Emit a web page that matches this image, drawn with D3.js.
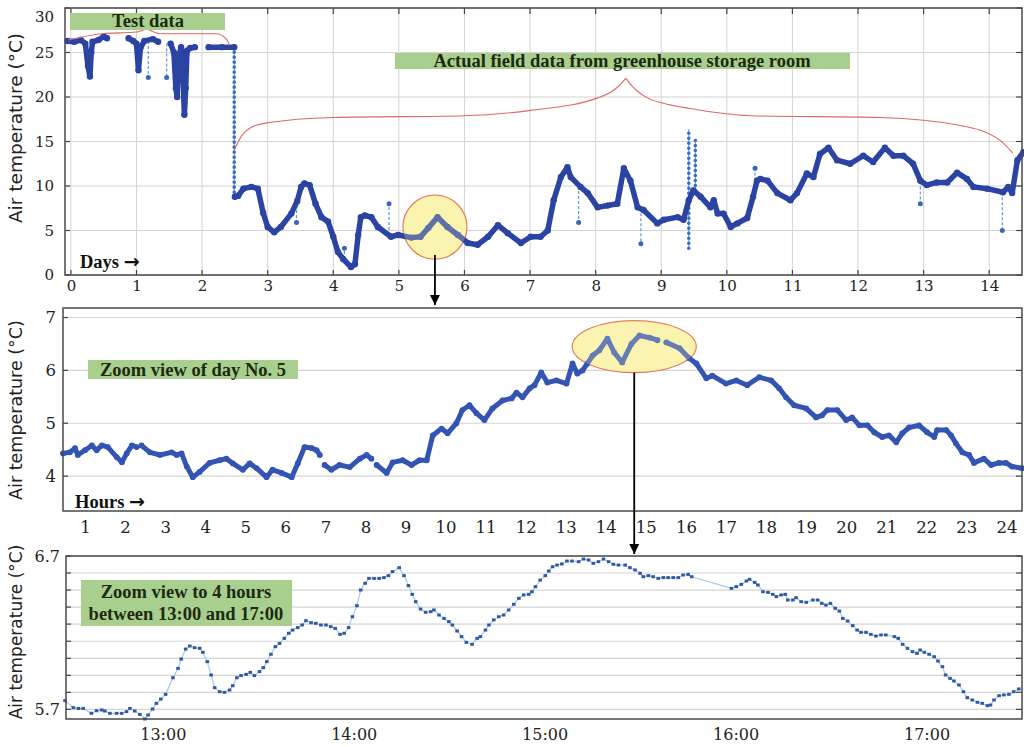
<!DOCTYPE html>
<html>
<head>
<meta charset="utf-8">
<script src="https://cdn.jsdelivr.net/npm/d3@7"></script>
<style>
  body { margin: 0; background: #fff; }
  .tick text { font-family: "DejaVu Serif", serif; fill: #222; }
</style>
</head>
<body>
<script>
// ----------------------------------------------------------------------------
// Data: top panel, air temperature (°C) against days. null = break in the line
// ----------------------------------------------------------------------------
const testSeries = [
  [-0.05, 26.3], [0.05, 26.2], [0.15, 26.4], [0.22, 26.0], [0.26, 23.5], [0.29, 22.3],
  [0.31, 25.0], [0.33, 26.2], [0.42, 26.4], [0.5, 26.8], [0.55, 26.6], null,
  [0.88, 26.6], [0.95, 26.3], [1.0, 26.0], [1.03, 23.0], [1.06, 25.5], [1.12, 26.3],
  [1.25, 26.5], [1.33, 26.2], null,
  [1.52, 26.0], [1.57, 25.0], [1.6, 21.0], [1.62, 20.0], [1.64, 24.5], [1.68, 25.6],
  [1.71, 22.0], [1.73, 18.0], [1.75, 21.0], [1.77, 25.2], [1.82, 25.5], [1.89, 25.6], null,
  [2.1, 25.6], [2.3, 25.6], [2.49, 25.6]
];

const fieldSeries = [
  [2.5, 8.8], [2.55, 8.9], [2.63, 9.7], [2.75, 9.9], [2.85, 9.7], [2.93, 7.0], [3.0, 5.4],
  [3.1, 4.8], [3.2, 5.4], [3.36, 6.9], [3.45, 8.3], [3.51, 9.9], [3.56, 10.3], [3.64, 10.1],
  [3.73, 8.0], [3.82, 6.5], [3.92, 6.0], [4.0, 4.3], [4.07, 2.6], [4.15, 1.8], [4.27, 0.9],
  [4.33, 1.2], [4.38, 4.5], [4.42, 6.5], [4.48, 6.7], [4.58, 6.5], [4.68, 5.4], [4.88, 4.3],
  [4.99, 4.5], [5.19, 4.2], [5.33, 4.3], [5.45, 5.3], [5.59, 6.5], [5.74, 5.4], [5.9, 4.5],
  [6.05, 3.6], [6.2, 3.4], [6.36, 4.3], [6.51, 5.6], [6.66, 4.7], [6.86, 3.6], [7.01, 4.3],
  [7.16, 4.3], [7.27, 5.0], [7.36, 8.4], [7.47, 11.0], [7.57, 12.1], [7.62, 11.0], [7.77, 9.9],
  [7.88, 9.2], [8.03, 7.6], [8.18, 7.8], [8.33, 8.0], [8.43, 12.0], [8.53, 10.6], [8.64, 7.6],
  [8.73, 7.3], [8.94, 5.8], [9.04, 6.2], [9.25, 6.5], [9.34, 6.2], [9.42, 8.4], [9.49, 9.5],
  [9.6, 8.8], [9.75, 7.6], [9.8, 8.4], [9.86, 6.9], [9.95, 6.9], [10.06, 5.4], [10.16, 5.8],
  [10.31, 6.4], [10.4, 8.8], [10.46, 10.6], [10.51, 10.8], [10.62, 10.6], [10.77, 9.2],
  [10.97, 8.4], [11.07, 9.2], [11.22, 11.4], [11.32, 11.0], [11.42, 13.6], [11.55, 14.3],
  [11.68, 12.9], [11.88, 12.5], [12.08, 13.4], [12.23, 12.7], [12.41, 14.3], [12.54, 13.4],
  [12.69, 13.4], [12.84, 12.5], [12.95, 10.6], [13.05, 10.1], [13.2, 10.4], [13.36, 10.4],
  [13.51, 11.5], [13.66, 10.8], [13.76, 9.9], [13.97, 9.7], [14.21, 9.3], [14.29, 9.9],
  [14.35, 9.2], [14.43, 12.9], [14.52, 13.8]
];

// single outlier readings: [day, from °C, to °C]
const thinSpikes = [
  [1.18, 26.3, 22.2], [1.46, 26.0, 22.2], [3.44, 9.0, 5.9], [4.17, 1.8, 3.0],
  [4.85, 4.5, 8.0], [7.74, 10.0, 5.9], [8.69, 7.5, 3.5], [10.43, 9.5, 12.0],
  [12.95, 10.5, 8.0], [14.2, 9.3, 5.0]
];
const dottedSpikes = [[2.49, 25.6, 8.8], [9.42, 3.0, 16.4], [9.52, 9.5, 15.2]];

const dayTicks = [0, 1, 2, 3, 4, 5, 6, 7, 8, 9, 10, 11, 12, 13, 14];
const topTempTicks = [0, 5, 10, 15, 20, 25, 30];

// ----------------------------------------------------------------------------
// Data: middle panel, day No. 5 by hour
// ----------------------------------------------------------------------------
const hourSeries = [
  [0.45, 4.43], [0.62, 4.45], [0.75, 4.53], [0.82, 4.40], [1.0, 4.49], [1.17, 4.58],
  [1.29, 4.49], [1.42, 4.58], [1.57, 4.55], [1.79, 4.36], [1.92, 4.26], [2.04, 4.43],
  [2.17, 4.58], [2.29, 4.55], null,
  [2.41, 4.58], [2.62, 4.45], [2.87, 4.40], [3.16, 4.45], [3.29, 4.40], [3.41, 4.43],
  [3.54, 4.18], [3.69, 3.98], [3.86, 4.08], [4.11, 4.25], [4.36, 4.30], [4.53, 4.33],
  [4.69, 4.24], [4.94, 4.12], [5.11, 4.24], [5.28, 4.15], [5.53, 3.98], [5.68, 4.12],
  [5.91, 4.06], [6.16, 3.98], [6.31, 4.24], [6.48, 4.55], [6.66, 4.53], [6.78, 4.49],
  [6.86, 4.40], null,
  [6.98, 4.21], [7.15, 4.12], [7.35, 4.21], [7.61, 4.17], [7.86, 4.33], [8.03, 4.40],
  [8.15, 4.33], null,
  [8.28, 4.21], [8.53, 4.06], [8.68, 4.26], [8.93, 4.30], [9.15, 4.21], [9.35, 4.30],
  [9.53, 4.30], [9.68, 4.77], [9.9, 4.90], [10.05, 4.81], [10.27, 5.0], [10.42, 5.25],
  [10.6, 5.34], [10.77, 5.19], [10.97, 5.06], [11.17, 5.28], [11.42, 5.43], [11.65, 5.47],
  [11.77, 5.58], [11.92, 5.49], [12.1, 5.66], [12.22, 5.72], [12.39, 5.96], [12.54, 5.77],
  [12.77, 5.81], [13.02, 5.75], [13.17, 6.13], [13.29, 5.94], [13.42, 6.0], [13.54, 6.13],
  [13.67, 6.28], [13.84, 6.38], [14.04, 6.60], [14.21, 6.34], [14.41, 6.15], [14.64, 6.5],
  [14.84, 6.66], [15.09, 6.62], [15.29, 6.57], null,
  [15.51, 6.53], [15.84, 6.42], [16.08, 6.23], [16.26, 6.13], [16.51, 5.85], [16.66, 5.9],
  [17.0, 5.75], [17.26, 5.81], [17.53, 5.72], [17.83, 5.87], [18.13, 5.81], [18.33, 5.66],
  [18.5, 5.49], [18.7, 5.34], [19.0, 5.28], [19.25, 5.11], [19.4, 5.15], [19.53, 5.25],
  [19.78, 5.25], [20.0, 5.06], [20.15, 5.11], [20.33, 4.96], [20.53, 4.96], [20.7, 4.83],
  [20.9, 4.74], [21.07, 4.77], [21.25, 4.64], [21.4, 4.81], [21.57, 4.92], [21.82, 4.96],
  [22.02, 4.83], [22.2, 4.74], [22.27, 4.87], [22.5, 4.87], [22.62, 4.77], [22.74, 4.62],
  [22.9, 4.45], [23.07, 4.40], [23.19, 4.25], [23.44, 4.33], [23.62, 4.21], [23.81, 4.25],
  [23.99, 4.25], [24.14, 4.18], [24.39, 4.15]
];
const hourTicks = [1, 2, 3, 4, 5, 6, 7, 8, 9, 10, 11, 12, 13, 14, 15, 16, 17, 18, 19, 20, 21, 22, 23, 24];
const midTempTicks = [4, 5, 6, 7];

// ----------------------------------------------------------------------------
// Data: bottom panel, minutes after 12:00
// ----------------------------------------------------------------------------
const minuteSeries = [
  [29.3, 5.757], [31.9, 5.711], [33.5, 5.706], [35.0, 5.706], [37.6, 5.674], [39.2, 5.691],
  [40.8, 5.696], [41.8, 5.689], [43.4, 5.674], [45.5, 5.674], [47.1, 5.674], [48.6, 5.685],
  [49.7, 5.706], [51.2, 5.689], [52.8, 5.667], [54.4, 5.637], [55.4, 5.663], [56.8, 5.702],
  [58.0, 5.739], [59.4, 5.767], [60.9, 5.798], [63.2, 5.906], [64.8, 5.967], [65.8, 6.028],
  [67.2, 6.093], [68.5, 6.113], [70.0, 6.102], [71.6, 6.098], [72.6, 6.072], [74.0, 6.011],
  [75.2, 5.924], [76.3, 5.841], [77.9, 5.815], [79.4, 5.811], [81.0, 5.826], [82.0, 5.854],
  [83.3, 5.906], [84.6, 5.920], [86.2, 5.928], [87.5, 5.941], [88.8, 5.920], [90.4, 5.946],
  [91.6, 5.972], [92.7, 6.011], [94.0, 6.059], [95.4, 6.109], [96.7, 6.130], [98.2, 6.163],
  [99.6, 6.196], [100.8, 6.217], [102.4, 6.233], [103.8, 6.250], [105.0, 6.278], [106.6, 6.265],
  [108.1, 6.261], [109.7, 6.250], [111.3, 6.250], [112.8, 6.239], [114.2, 6.228], [115.7, 6.189],
  [117.0, 6.196], [118.4, 6.233], [119.6, 6.304], [121.0, 6.376], [122.2, 6.478], [123.6, 6.522],
  [124.8, 6.554], [126.4, 6.554], [128.0, 6.554], [129.5, 6.559], [130.9, 6.572], [132.2, 6.598],
  [134.3, 6.624], [135.8, 6.572], [137.2, 6.507], [138.4, 6.450], [139.5, 6.402], [141.0, 6.354],
  [142.6, 6.333], [144.2, 6.337], [145.2, 6.348], [146.8, 6.315], [148.4, 6.293], [149.9, 6.272],
  [151.0, 6.250], [152.5, 6.211], [153.9, 6.174], [155.4, 6.137], [157.2, 6.124], [158.8, 6.163],
  [159.8, 6.174], [161.4, 6.217], [162.5, 6.250], [164.0, 6.283], [165.6, 6.304], [167.1, 6.315],
  [168.7, 6.348], [170.3, 6.385], [171.9, 6.424], [173.4, 6.446], [175.0, 6.450], [176.0, 6.467],
  [177.1, 6.500], [178.6, 6.543], [180.2, 6.572], [181.3, 6.602], [182.5, 6.630], [183.9, 6.641],
  [185.4, 6.648], [187.0, 6.667], [188.6, 6.667], [190.7, 6.663], [192.2, 6.680], [193.8, 6.674],
  [195.3, 6.652], [196.9, 6.663], [198.5, 6.680], [200.1, 6.663], [201.6, 6.646], [203.2, 6.641],
  [205.3, 6.641], [206.8, 6.624], [208.4, 6.609], [210.0, 6.587], [211.0, 6.565], [212.6, 6.572],
  [214.1, 6.565], [215.7, 6.554], [217.3, 6.559], [218.8, 6.559], [220.4, 6.559], [222.0, 6.559],
  [223.5, 6.576], [225.1, 6.580], [226.2, 6.565],
  [238.7, 6.489], [240.2, 6.500], [241.8, 6.515], [243.4, 6.537], [244.4, 6.548], [246.0, 6.528],
  [247.0, 6.511], [248.6, 6.467], [250.2, 6.463], [251.7, 6.450], [252.8, 6.435], [254.3, 6.446],
  [255.6, 6.450], [256.4, 6.413], [258.0, 6.413], [259.0, 6.428], [260.6, 6.402], [262.2, 6.398],
  [264.3, 6.413], [265.8, 6.413], [267.1, 6.391], [268.4, 6.380], [269.8, 6.391], [271.3, 6.359],
  [272.6, 6.341], [273.7, 6.293], [275.2, 6.276], [276.8, 6.246], [278.2, 6.217], [279.4, 6.202],
  [281.0, 6.202], [282.5, 6.189], [284.1, 6.178], [285.7, 6.185], [287.2, 6.185], [289.9, 6.174],
  [291.1, 6.163], [292.5, 6.124], [294.0, 6.098], [295.6, 6.076], [297.0, 6.065], [298.0, 6.087],
  [299.3, 6.072], [300.8, 6.059], [302.4, 6.043], [303.6, 6.015], [305.0, 5.978], [306.0, 5.924],
  [307.4, 5.902], [308.6, 5.885], [310.2, 5.859], [311.6, 5.815], [312.8, 5.776], [314.4, 5.761],
  [316.0, 5.746], [317.5, 5.739], [319.1, 5.724], [320.1, 5.728], [321.2, 5.761], [322.8, 5.789],
  [324.3, 5.794], [325.9, 5.798], [327.4, 5.815], [329.0, 5.833]
];
const minuteTicks = [60, 120, 180, 240, 300];
const minuteLabels = ['13:00', '14:00', '15:00', '16:00', '17:00'];
const botTempTicks = [5.7, 5.811, 5.922, 6.033, 6.144, 6.256, 6.367, 6.478, 6.589, 6.7];
const botTempLabels = ['5.7', '', '', '', '', '', '', '', '', '6.7'];

// ----------------------------------------------------------------------------
// Setup
// ----------------------------------------------------------------------------
const svg = d3.select('body').append('svg').attr('width', 1024).attr('height', 747);

const darkBlue = '#2b44a3';
const midBlue = '#3454b4';
const lightBlue = '#5b9bd5';
const gridCol = '#d4d4d4';
const braceCol = '#e06666';
const boxGreen = '#a9cf8e';
const hiFill = '#fbf3b0';
const hiStroke = '#e2704f';

svg.append('defs').append('marker')
  .attr('id', 'head').attr('viewBox', '0 0 10 10')
  .attr('refX', 10).attr('refY', 5)
  .attr('markerWidth', 10).attr('markerHeight', 11)
  .attr('markerUnits', 'userSpaceOnUse').attr('orient', 'auto')
  .append('path').attr('d', 'M0,0 L10,5 L0,10 Z').attr('fill', '#000');

const xTop = d3.scaleLinear().domain([-0.09, 14.5]).range([65, 1022]);
const yTop = d3.scaleLinear().domain([0, 30]).range([275, 8]);
const xMid = d3.scaleLinear().domain([0.45, 24.39]).range([63, 1022]);
const yMid = d3.scaleLinear().domain([3.34, 7.18]).range([511, 308]);
const xBot = d3.scaleLinear().domain([29.6, 330]).range([66, 1022]);
const yBot = d3.scaleLinear().domain([5.637, 6.70]).range([719, 556]);

// grid, inward ticks and frame for one panel
const drawFrame = (g, x, y, xt, yt, opts) => {
  const [x0, x1] = x.range(), [y1, y0] = y.range();
  if (opts.vgrid) {
    g.append('g').selectAll('line').data(xt).enter().append('line')
      .attr('x1', d => x(d)).attr('x2', d => x(d)).attr('y1', y0).attr('y2', y1)
      .attr('stroke', gridCol).attr('stroke-width', 1);
  }
  g.append('g').selectAll('line').data(yt).enter().append('line')
    .attr('x1', x0).attr('x2', x1).attr('y1', d => y(d)).attr('y2', d => y(d))
    .attr('stroke', gridCol).attr('stroke-width', 1.2);
  return () => {
    const t = g.append('g').attr('stroke', '#444').attr('stroke-width', 1.2);
    yt.forEach(v => {
      t.append('line').attr('x1', x1 - 6).attr('x2', x1).attr('y1', y(v)).attr('y2', y(v));
      t.append('line').attr('x1', x0).attr('x2', x0 + 5).attr('y1', y(v)).attr('y2', y(v));
    });
    if (opts.xticks) {
      xt.forEach(v => {
        t.append('line').attr('x1', x(v)).attr('x2', x(v)).attr('y1', y0).attr('y2', y0 + 6);
        t.append('line').attr('x1', x(v)).attr('x2', x(v)).attr('y1', y1 - 5).attr('y2', y1);
      });
    }
    g.append('rect').attr('x', x0).attr('y', y0).attr('width', x1 - x0).attr('height', y1 - y0)
      .attr('fill', 'none').attr('stroke', '#4a4a4a').attr('stroke-width', 1.5);
  };
};

const axisLabels = (g, x, y, xt, yt, o) => {
  const [x0] = x.range(), [y1] = y.range();
  const xa = g.append('g').attr('transform', `translate(0,${y1})`)
    .call(d3.axisBottom(x).tickValues(xt).tickSize(0).tickPadding(o.xpad)
      .tickFormat((d, i) => o.xfmt ? o.xfmt[i] : d));
  const ya = g.append('g').attr('transform', `translate(${x0},0)`)
    .call(d3.axisLeft(y).tickValues(yt).tickSize(0).tickPadding(o.ypad)
      .tickFormat((d, i) => o.yfmt ? o.yfmt[i] : d));
  [xa, ya].forEach(a => {
    a.select('.domain').remove();
    a.selectAll('text').style('font-size', o.size + 'px').attr('fill', '#222');
  });
  return ya;
};

const yTitle = (cy, size) => {
  svg.append('text')
    .attr('transform', `translate(22,${cy}) rotate(-90)`)
    .attr('text-anchor', 'middle')
    .style('font-family', '"DejaVu Sans", sans-serif').style('font-size', size + 'px')
    .attr('fill', '#222')
    .text('Air temperature (°C)');
};

const greenBox = (x0, y0, w, h, lines, baselines, cx) => {
  svg.append('rect').attr('x', x0).attr('y', y0).attr('width', w).attr('height', h).attr('fill', boxGreen);
  lines.forEach((l, i) => {
    svg.append('text').attr('x', cx).attr('y', baselines[i]).attr('text-anchor', 'middle')
      .style('font-family', '"Liberation Serif", serif').style('font-weight', 'bold')
      .style('font-size', '18.5px').attr('fill', '#1c2a10').text(l);
  });
};

const boldLabel = (x, y, txt) => {
  const t = svg.append('text').attr('x', x).attr('y', y)
    .style('font-family', '"Liberation Serif", serif').style('font-weight', 'bold')
    .style('font-size', '18.5px').attr('fill', '#111');
  t.append('tspan').text(txt + ' ');
  t.append('tspan').style('font-family', '"DejaVu Sans", sans-serif').style('font-size', '19px')
    .text('\u2192');
};

// ----------------------------------------------------------------------------
// Top panel
// ----------------------------------------------------------------------------
const gTop = svg.append('g');
const finishTop = drawFrame(gTop, xTop, yTop, dayTicks, topTempTicks, { vgrid: true, xticks: true });

gTop.append('circle').attr('cx', xTop(5.55)).attr('cy', yTop(5.38)).attr('r', 32)
  .attr('fill', hiFill).attr('stroke', hiStroke).attr('stroke-width', 1.2);

const topLine = d3.line().defined(d => d).x(d => xTop(d[0])).y(d => yTop(d[1]));

// outlier spikes
gTop.append('g').selectAll('line').data(thinSpikes).enter().append('line')
  .attr('x1', d => xTop(d[0])).attr('x2', d => xTop(d[0]))
  .attr('y1', d => yTop(d[1])).attr('y2', d => yTop(d[2]))
  .attr('stroke', lightBlue).attr('stroke-width', 1.2).attr('stroke-dasharray', '3,2');
gTop.append('g').selectAll('circle').data(thinSpikes).enter().append('circle')
  .attr('cx', d => xTop(d[0])).attr('cy', d => yTop(d[2])).attr('r', 2.5).attr('fill', '#3a66b8');

dottedSpikes.forEach(d => {
  gTop.append('line')
    .attr('x1', xTop(d[0])).attr('x2', xTop(d[0])).attr('y1', yTop(d[1])).attr('y2', yTop(d[2]))
    .attr('stroke', lightBlue).attr('stroke-width', 1);
  gTop.append('line')
    .attr('x1', xTop(d[0])).attr('x2', xTop(d[0])).attr('y1', yTop(d[1])).attr('y2', yTop(d[2]))
    .attr('stroke', '#3d6cc0').attr('stroke-width', 3.6).attr('stroke-linecap', 'round')
    .attr('stroke-dasharray', '0,5');
});

[testSeries, fieldSeries].forEach(s => {
  gTop.append('path').attr('d', topLine(s)).attr('fill', 'none')
    .attr('stroke', darkBlue).attr('stroke-width', 5.5)
    .attr('stroke-linejoin', 'round').attr('stroke-linecap', 'round');
  gTop.append('g').selectAll('circle').data(s.filter(d => d)).enter().append('circle')
    .attr('cx', d => xTop(d[0])).attr('cy', d => yTop(d[1])).attr('r', 3.2).attr('fill', darkBlue);
});

// braces
const braceLine = d3.line().x(d => xTop(d[0])).y(d => yTop(d[1])).curve(d3.curveMonotoneX);
const braces = [
  [[-0.04, 26.4], [0.47, 27.1], [1.0, 27.3], [1.15, 27.7]],
  [[1.15, 27.7], [1.38, 27.1], [2.22, 27.1], [2.37, 26.5], [2.42, 25.8]],
  [[2.49, 14.0], [2.6, 15.6], [2.75, 16.6], [3.0, 17.1], [4.0, 17.7], [6.0, 17.9], [7.01, 18.5],
   [8.03, 19.9], [8.3, 20.9], [8.46, 22.1]],
  [[8.46, 22.1], [8.56, 21.2], [8.79, 19.9], [9.03, 19.3], [9.44, 18.7], [10.36, 17.9],
   [12.34, 17.7], [13.56, 16.8], [14.17, 15.1], [14.36, 13.7]]
];
braces.forEach(b => {
  gTop.append('path').attr('d', braceLine(b)).attr('fill', 'none')
    .attr('stroke', braceCol).attr('stroke-width', 1.1);
});

// light wash over the highlighted day so the line reads through yellow
gTop.append('circle').attr('cx', xTop(5.55)).attr('cy', yTop(5.38)).attr('r', 32)
  .attr('fill', hiFill).attr('fill-opacity', 0.25).attr('stroke', 'none');

finishTop();
const yaTop = axisLabels(gTop, xTop, yTop, dayTicks, topTempTicks, { xpad: 5, ypad: 11, size: 15 });
yaTop.selectAll('.tick').filter(d => d === 30).select('text').attr('dy', '0.9em');

// ----------------------------------------------------------------------------
// Middle panel
// ----------------------------------------------------------------------------
const gMid = svg.append('g');
const finishMid = drawFrame(gMid, xMid, yMid, hourTicks, midTempTicks, { vgrid: false, xticks: false });
gMid.append('ellipse').attr('cx', xMid(14.71)).attr('cy', yMid(6.45)).attr('rx', 62).attr('ry', 26)
  .attr('fill', hiFill).attr('stroke', hiStroke).attr('stroke-width', 1.2);

const midLine = d3.line().defined(d => d).x(d => xMid(d[0])).y(d => yMid(d[1]));
gMid.append('path').attr('d', midLine(hourSeries)).attr('fill', 'none')
  .attr('stroke', midBlue).attr('stroke-width', 5)
  .attr('stroke-linejoin', 'round').attr('stroke-linecap', 'round');
gMid.append('g').selectAll('circle').data(hourSeries.filter(d => d)).enter().append('circle')
  .attr('cx', d => xMid(d[0])).attr('cy', d => yMid(d[1])).attr('r', 2.9).attr('fill', midBlue);

gMid.append('ellipse').attr('cx', xMid(14.71)).attr('cy', yMid(6.45)).attr('rx', 62).attr('ry', 26)
  .attr('fill', hiFill).attr('fill-opacity', 0.25).attr('stroke', 'none');
finishMid();
axisLabels(gMid, xMid, yMid, hourTicks, midTempTicks, { xpad: 10, ypad: 7, size: 16.5 });

// ----------------------------------------------------------------------------
// Bottom panel
// ----------------------------------------------------------------------------
const gBot = svg.append('g');
const finishBot = drawFrame(gBot, xBot, yBot, minuteTicks, botTempTicks, { vgrid: false, xticks: false });
const botLine = d3.line().x(d => xBot(d[0])).y(d => yBot(d[1]));
gBot.append('path').attr('d', botLine(minuteSeries)).attr('fill', 'none')
  .attr('stroke', '#a9c8ea').attr('stroke-width', 1.2);
gBot.append('g').selectAll('rect').data(minuteSeries).enter().append('rect')
  .attr('x', d => xBot(d[0]) - 1.8).attr('y', d => yBot(d[1]) - 1.5)
  .attr('width', 3.6).attr('height', 3).attr('fill', '#2f5b9e');
finishBot();
axisLabels(gBot, xBot, yBot, minuteTicks, botTempTicks,
  { xpad: 10, ypad: 6, size: 16, xfmt: minuteLabels, yfmt: botTempLabels });

// ----------------------------------------------------------------------------
// Titles, notes and arrows
// ----------------------------------------------------------------------------
yTitle(128, 18.5);
yTitle(410, 17.5);
yTitle(632, 17);

greenBox(70, 13, 155, 17, ['Test data'], [27], 148);
greenBox(395, 53, 455, 16, ['Actual field data from greenhouse storage room'], [67], 622);
greenBox(88, 360, 210, 19, ['Zoom view of day No. 5'], [376], 193);
greenBox(81, 580, 211, 46, ['Zoom view to 4 hours', 'between 13:00 and 17:00'], [598, 620], 186);

boldLabel(80, 268, 'Days');
boldLabel(75, 508, 'Hours');

svg.append('line')
  .attr('x1', xTop(5.55)).attr('x2', xTop(5.55)).attr('y1', yTop(5.38) + 28).attr('y2', 305)
  .attr('stroke', '#000').attr('stroke-width', 1.8).attr('marker-end', 'url(#head)');
svg.append('line')
  .attr('x1', xMid(14.71)).attr('x2', xMid(14.71)).attr('y1', yMid(6.45) + 26).attr('y2', 554)
  .attr('stroke', '#000').attr('stroke-width', 1.8).attr('marker-end', 'url(#head)');
</script>
</body>
</html>
